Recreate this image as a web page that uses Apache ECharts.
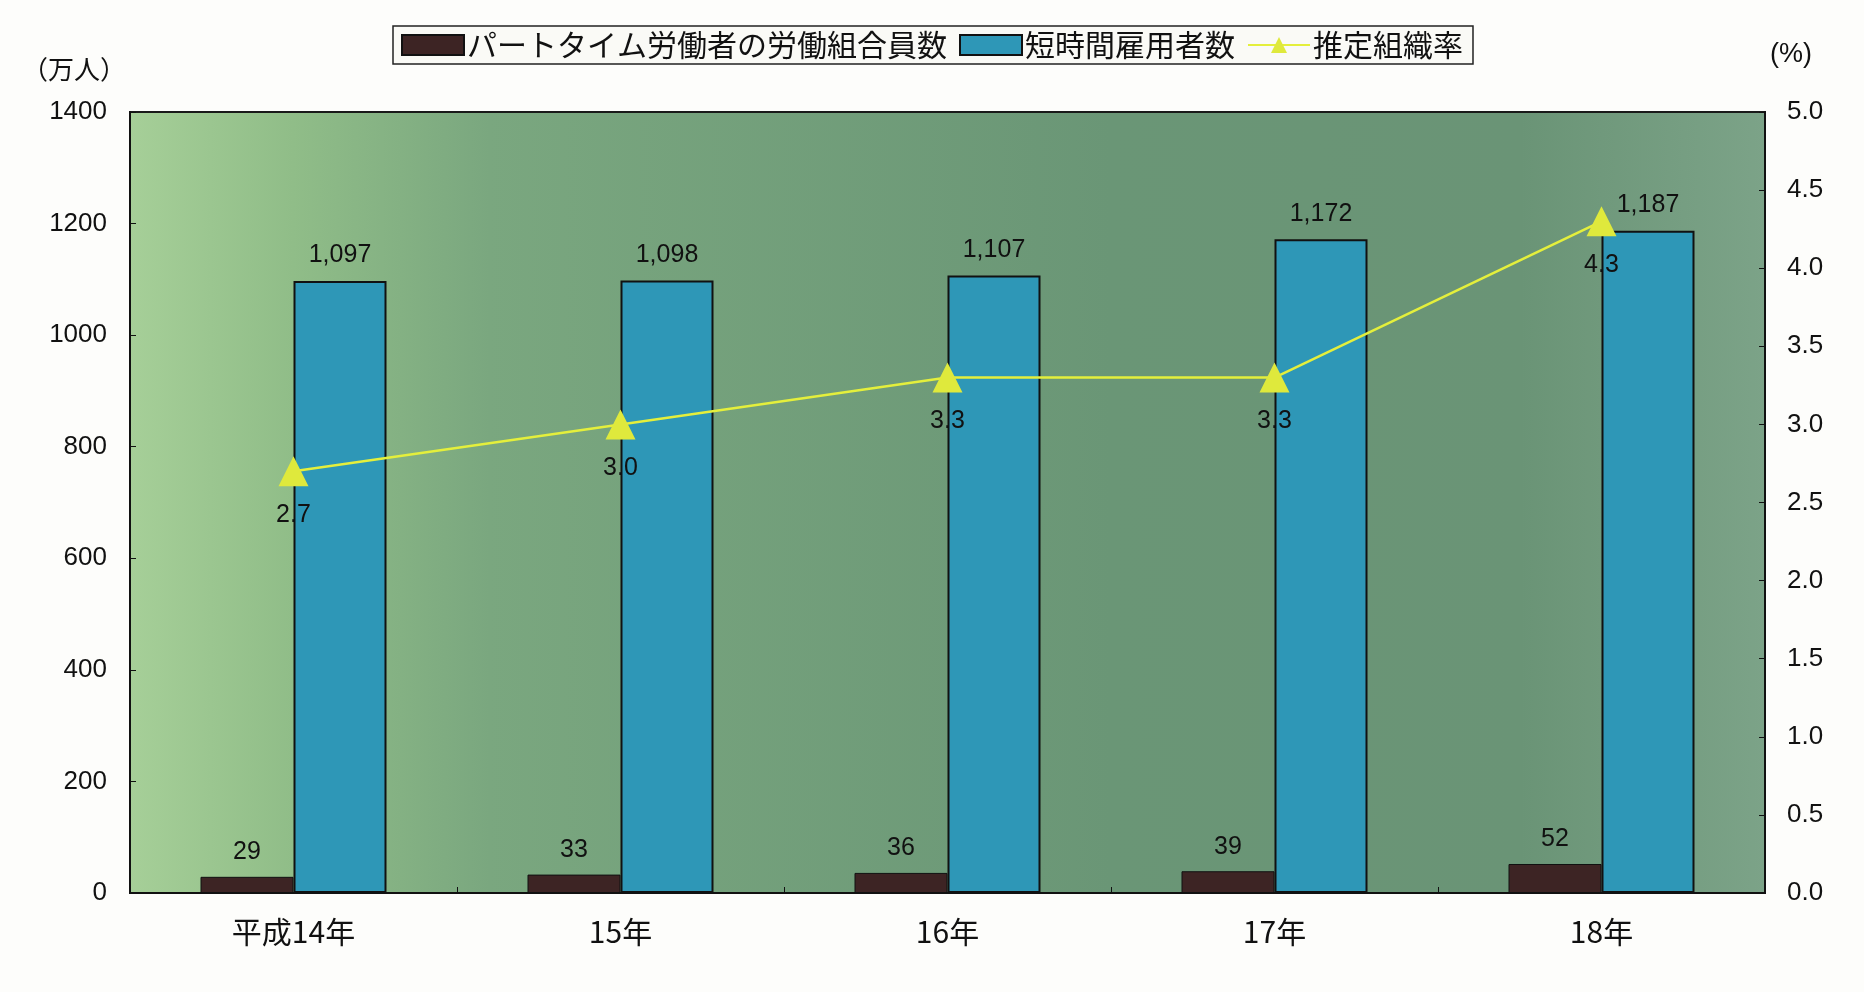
<!DOCTYPE html>
<html><head><meta charset="utf-8">
<script src="https://cdn.jsdelivr.net/npm/echarts@6/dist/echarts.min.js"></script>
<style>html,body{margin:0;padding:0;background:#fff}#c{width:1864px;height:992px}</style>
</head><body><div id="c"></div>
<script>
const categories = ['平成14年', '15年', '16年', '17年', '18年'];
const unionMembers = [29, 33, 36, 39, 52];
const shortTimeEmployees = [1097, 1098, 1107, 1172, 1187];
const orgRate = [2.7, 3.0, 3.3, 3.3, 4.3];
const leftTicks = {min: 0, max: 1400, interval: 200};
const rightTicks = {min: 0, max: 5, interval: 0.5};
const seriesNames = ['パートタイム労働者の労働組合員数', '短時間雇用者数', '推定組織率'];

const FONT = '"Noto Sans CJK JP", "Liberation Sans", Arial, sans-serif';
const NUM = '"Liberation Sans", Arial, sans-serif';
const chart = echarts.init(document.getElementById('c'));
chart.setOption({
  backgroundColor: '#fdfdfb',
  textStyle: {fontFamily: FONT, color: '#111'},
  legend: {
    top: 26, left: 'center',
    data: [
      {name: seriesNames[0], icon: 'rect'},
      {name: seriesNames[1], icon: 'rect'},
      {name: seriesNames[2]}
    ],
    itemWidth: 62, itemHeight: 20, itemGap: 12,
    padding: [4, 10, 4, 8],
    borderColor: '#222', borderWidth: 1.5,
    backgroundColor: '#fafaf6',
    textStyle: {fontSize: 30, color: '#111', fontFamily: FONT, padding: [0, 0, 0, -2]}
  },
  grid: {
    left: 130, right: 99, top: 112, bottom: 99,
    show: true,
    borderColor: '#1a1a1a', borderWidth: 2,
    backgroundColor: {
      type: 'linear', x: 0, y: 0, x2: 1, y2: 0,
      colorStops: [
        {offset: 0, color: '#a6cf98'},
        {offset: 0.1, color: '#90bd88'},
        {offset: 0.22, color: '#7aa77f'},
        {offset: 0.6, color: '#6a9676'},
        {offset: 0.85, color: '#6a9476'},
        {offset: 1, color: '#7ca388'}
      ]
    }
  },
  xAxis: {
    type: 'category', data: categories,
    axisLine: {lineStyle: {color: '#111', width: 2}},
    axisTick: {show: true, inside: true, length: 6, lineStyle: {color: '#111'}},
    axisLabel: {fontSize: 30, color: '#111', margin: 24, fontFamily: FONT}
  },
  yAxis: [{
    type: 'value', min: leftTicks.min, max: leftTicks.max, interval: leftTicks.interval,
    name: '（万人）', nameLocation: 'end', nameGap: 30,
    nameTextStyle: {fontSize: 26, color: '#111', align: 'right', padding: [0, 4, 0, 0], fontFamily: FONT},
    axisLine: {show: true, lineStyle: {color: '#111', width: 2}},
    axisTick: {show: true, inside: true, length: 6, lineStyle: {color: '#111'}},
    splitLine: {show: false},
    axisLabel: {fontSize: 26, color: '#111', margin: 23, fontFamily: NUM, formatter: v => String(v)}
  }, {
    type: 'value', min: rightTicks.min, max: rightTicks.max, interval: rightTicks.interval,
    name: '(%)', nameLocation: 'end', nameGap: 44,
    nameTextStyle: {fontSize: 27, color: '#111', align: 'left', padding: [0, 0, 0, 5], fontFamily: NUM},
    axisLine: {show: true, lineStyle: {color: '#111', width: 2}},
    axisTick: {show: true, inside: true, length: 6, lineStyle: {color: '#111'}},
    splitLine: {show: false},
    axisLabel: {fontSize: 26, color: '#111', margin: 22, fontFamily: NUM,
      formatter: v => v.toFixed(1)}
  }],
  series: [{
    name: seriesNames[0], type: 'bar', data: unionMembers,
    barWidth: 93, barGap: '0%',
    itemStyle: {color: '#3d2424', borderColor: '#111', borderWidth: 1},
    label: {show: true, position: 'top', distance: 12, fontSize: 25, color: '#111', fontFamily: NUM}
  }, {
    name: seriesNames[1], type: 'bar', data: shortTimeEmployees,
    barWidth: 93,
    itemStyle: {color: '#2e97b7', borderColor: '#111', borderWidth: 2},
    label: {show: true, position: 'top', distance: 13, fontSize: 25, color: '#111', fontFamily: NUM,
      formatter: p => p.value.toLocaleString('en-US')}
  }, {
    name: seriesNames[2], type: 'line', yAxisIndex: 1, data: orgRate,
    symbol: 'triangle', symbolSize: 30,
    lineStyle: {color: '#e4ef3c', width: 2.5},
    itemStyle: {color: '#dfe93c'},
    label: {show: true, position: 'bottom', distance: 16, fontSize: 25, color: '#111', fontFamily: NUM,
      formatter: p => p.value.toFixed(1)},
    z: 5
  }]
});
</script></body></html>
